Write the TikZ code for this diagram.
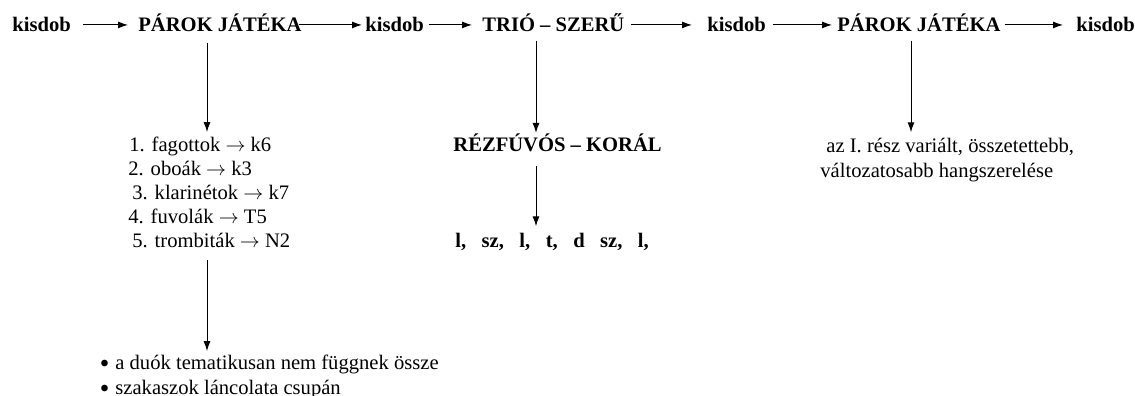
\documentclass[tikz,border=0pt]{standalone}
\usepackage{fontspec}
\setmainfont{Liberation Serif}
\usetikzlibrary{arrows.meta}

\newcommand{\jobbra}{$\rightarrow$}
\newcommand{\pont}{\makebox[7.5pt][l]{\raisebox{0.8pt}{\fontsize{8}{8}\selectfont$\bullet$}}}

\tikzset{
  betu/.style={font=\fontsize{10.3}{12}\selectfont},
  szoveg/.style={betu, inner sep=0pt, anchor=base west},
  fej/.style={szoveg, font=\fontsize{10.3}{12}\selectfont\bfseries},
  nyil/.style={-{Latex[length=5pt,width=3.5pt]}, line width=0.5pt}
}

\begin{document}
\begin{tikzpicture}[x=0.5pt,y=-0.5pt]
\useasboundingbox (0,0) rectangle (1135,396);

\path (12,32) node[fej] (k1) {kisdob}
      (138,32) node[fej] (p1) {PÁROK JÁTÉKA}
      (365,32) node[fej] (k2) {kisdob}
      (482,32) node[fej] (t1) {TRIÓ – SZERŰ}
      (707,32) node[fej] (k3) {kisdob}
      (837,32) node[fej] (p2) {PÁROK JÁTÉKA}
      (1076,32) node[fej] (k4) {kisdob}
      (129,151) node[szoveg] (h1) {1. fagottok \jobbra{} k6}
      (128,175) node[szoveg] (h2) {2. oboák \jobbra{} k3}
      (132,199) node[szoveg] (h3) {3. klarinétok \jobbra{} k7}
      (128,223) node[szoveg] (h4) {4. fuvolák \jobbra{} T5}
      (132,247) node[szoveg] (h5) {5. trombiták \jobbra{} N2}
      (453,151) node[fej] (r1) {RÉZFÚVÓS – KORÁL}
      (455,247) node[fej] (s1) {l,~~~sz,~~~l,~~~t,~~~d~~~sz,~~~l,}
      (826,152) node[szoveg] (a1) {az I. rész variált, összetettebb,}
      (820,177) node[szoveg] (a2) {változatosabb hangszerelése}
      (100,369) node[szoveg] (b1) {\pont a duók tematikusan nem függnek össze}
      (100,394) node[szoveg] (b2) {\pont szakaszok láncolata csupán}
      ;
\coordinate (c1) at (207,0);
\coordinate (c2) at (536,0);
\coordinate (c3) at (911,0);

% felso sor
\draw[nyil, shorten <=6pt, shorten >=5pt] (k1.east) -- (k1.east -| p1.west);
\draw[nyil, shorten <=-1.5pt, shorten >=1.5pt] (p1.east |- k2.west) -- (k2.west);
\draw[nyil, shorten <=2.5pt, shorten >=5pt] (k2.east) -- (k2.east -| t1.west);
\draw[nyil, shorten <=3pt, shorten >=7.5pt] (t1.east |- k3.west) -- (k3.west);
\draw[nyil, shorten <=3.5pt, shorten >=2.5pt] (k3.east) -- (k3.east -| p2.west);
\draw[nyil, shorten <=2pt, shorten >=6.5pt] (p2.east |- k4.west) -- (k4.west);

% lefele
\draw[nyil, shorten <=5pt, shorten >=2pt] (p1.south -| c1) -- (h1.north -| c1);
\draw[nyil, shorten <=4pt] (t1.south -| c2) -- (r1.north -| c2);
\draw[nyil, shorten <=4pt, shorten >=2.5pt] (p2.south -| c3) -- (a1.north -| c3);
\draw[nyil, shorten <=7pt, shorten >=3pt] (r1.south -| c2) -- (s1.north -| c2);
\draw[nyil, shorten <=6pt, shorten >=1.5pt] (h5.south -| c1) -- (b1.north -| c1);
\end{tikzpicture}
\end{document}
